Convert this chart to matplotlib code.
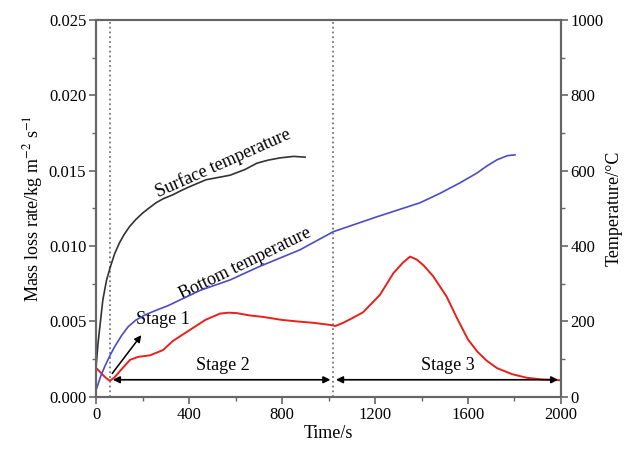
import numpy as np
import matplotlib.pyplot as plt
from matplotlib.ticker import MultipleLocator

plt.rcParams['font.family'] = 'Liberation Serif'
plt.rcParams['mathtext.fontset'] = 'stix'

# mass loss rate (red)
t_mlr = [0, 20, 37, 59, 80, 108, 146, 181, 232, 288, 330, 404, 470, 533, 570, 606, 660,
         718, 800, 865, 940, 1006, 1030, 1062, 1100, 1148, 1221, 1279, 1320, 1351,
         1380, 1410, 1450, 1508, 1550, 1600, 1640, 1680, 1725, 1790, 1854, 1920, 1995]
mlr = [0.00192, 0.0016, 0.00133, 0.00105, 0.0013, 0.0018, 0.00245, 0.00265, 0.00275,
       0.0031, 0.0037, 0.00444, 0.0051, 0.00552, 0.00558, 0.00555, 0.0054, 0.0053, 0.0051,
       0.0050, 0.0049, 0.00477, 0.0047, 0.0049, 0.0052, 0.0056, 0.00676, 0.0082, 0.0089,
       0.0093, 0.0091, 0.0087, 0.0080, 0.00665, 0.0053, 0.0038, 0.0030, 0.0024,
       0.0019, 0.0015, 0.00126, 0.00115, 0.0011]

# surface temperature (black)
t_surf = [0, 8, 16, 29, 45, 64, 80, 100, 120, 143, 170, 201, 230, 258, 290, 330, 365, 400,
          473, 576, 640, 692, 740, 791, 850, 899]
T_surf = [80, 140, 185, 257, 310, 350, 380, 408, 430, 451, 470, 488, 502, 515, 526, 536,
          547, 557, 576, 588, 603, 620, 628, 634, 638, 636]

# bottom temperature (blue)
t_bot = [0, 20, 37, 60, 80, 110, 138, 170, 209, 260, 310, 361, 450, 576, 700, 877, 1020,
         1200, 1394, 1480, 1566, 1600, 1639, 1680, 1725, 1770, 1802]
T_bot = [18, 55, 80, 110, 133, 163, 186, 203, 217, 230, 242, 257, 283, 310, 345, 390, 438,
         476, 515, 540, 568, 580, 594, 612, 629, 640, 642]

stage_lines = [60, 1020]

fig, ax = plt.subplots(figsize=(6.24, 4.54), dpi=100)
fig.subplots_adjust(left=0.154, right=0.899, bottom=0.126, top=0.956)
ax2 = ax.twinx()

ax.plot(t_mlr, mlr, color='#e8201c', lw=1.4)
ax2.plot(t_surf, T_surf, color='#333333', lw=1.2)
ax2.plot(t_bot, T_bot, color='#4b4bc8', lw=1.2)

for x in stage_lines:
    ax.axvline(x, color='#777777', ls=':', lw=1.3)

arr = dict(arrowstyle='<|-|>', color='black', lw=1.2, mutation_scale=10)
ax.annotate('', xy=(60, 0.00113), xytext=(1020, 0.00113), arrowprops=arr)
ax.annotate('', xy=(1020, 0.00113), xytext=(2000, 0.00113), arrowprops=arr)
ax.annotate('', xy=(202, 0.00424), xytext=(62, 0.0014),
            arrowprops=dict(arrowstyle='-|>', color='black', lw=1.1, mutation_scale=10))

ax.text(546, 0.0021, 'Stage 2', fontsize=13, ha='center', va='center')
ax.text(1514, 0.0021, 'Stage 3', fontsize=13, ha='center', va='center')
ax.text(172, 0.0051, 'Stage 1', fontsize=13, ha='left', va='center')
ax.text(545, 0.0155, 'Surface temperature', fontsize=13, ha='center', va='center', rotation=24)
ax.text(640, 0.0088, 'Bottom temperature', fontsize=13, ha='center', va='center', rotation=26)

ax.set_xlim(0, 2000)
ax.set_ylim(0, 0.025)
ax2.set_ylim(0, 1000)
ax.xaxis.set_major_locator(MultipleLocator(400))
ax.xaxis.set_minor_locator(MultipleLocator(200))
ax.yaxis.set_major_locator(MultipleLocator(0.005))
ax.yaxis.set_minor_locator(MultipleLocator(0.0025))
ax2.yaxis.set_major_locator(MultipleLocator(200))
ax2.yaxis.set_minor_locator(MultipleLocator(100))
ax.yaxis.set_major_formatter(plt.FormatStrFormatter('%.3f'))

for a in (ax, ax2):
    for s in a.spines.values():
        s.set_color('#666666')
        s.set_linewidth(1.5)
    a.tick_params(which='both', direction='out', color='#666666', labelsize=12, pad=2)
    a.tick_params(which='major', length=5, width=1.2)
    a.tick_params(which='minor', length=3, width=1.0)

ax.set_xlabel('Time/s', fontsize=13, labelpad=2)
ax.set_ylabel('Mass loss rate/kg m$^{-2}$ s$^{-1}$', fontsize=13, labelpad=3)
ax2.set_ylabel('Temperature/°C', fontsize=13, labelpad=1)

fig.savefig('out.png', dpi=100)
